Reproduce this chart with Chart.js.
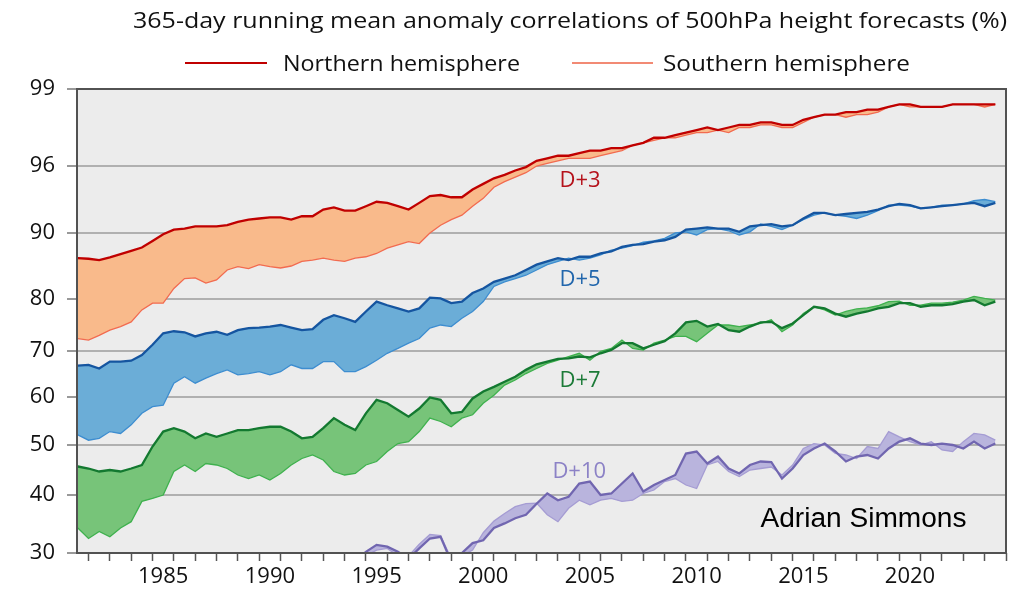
<!DOCTYPE html>
<html>
<head>
<meta charset="utf-8">
<script src="https://cdn.jsdelivr.net/npm/chart.js@4.4.1/dist/chart.umd.min.js"></script>
<style>
  html, body { margin: 0; padding: 0; background: #fff; }
  #wrap { width: 1033px; height: 590px; }
</style>
</head>
<body>
<div id="wrap"><canvas id="acChart" width="1033" height="590"></canvas></div>
<script>
// sample times, every half year (365-day running means)
const years = [
  1981.5, 1982, 1982.5, 1983, 1983.5, 1984, 1984.5,
  1985, 1985.5, 1986, 1986.5, 1987, 1987.5, 1988, 1988.5, 1989, 1989.5,
  1990, 1990.5, 1991, 1991.5, 1992, 1992.5, 1993, 1993.5, 1994, 1994.5,
  1995, 1995.5, 1996, 1996.5, 1997, 1997.5, 1998, 1998.5, 1999, 1999.5,
  2000, 2000.5, 2001, 2001.5, 2002, 2002.5, 2003, 2003.5, 2004, 2004.5,
  2005, 2005.5, 2006, 2006.5, 2007, 2007.5, 2008, 2008.5, 2009, 2009.5,
  2010, 2010.5, 2011, 2011.5, 2012, 2012.5, 2013, 2013.5, 2014, 2014.5,
  2015, 2015.5, 2016, 2016.5, 2017, 2017.5, 2018, 2018.5, 2019, 2019.5,
  2020, 2020.5, 2021, 2021.5, 2022, 2022.5, 2023, 2023.5, 2024, 2024.5
];

// D+3
const d3NH = [
  86.2, 86.1, 85.9, 86.3, 86.8, 87.3, 87.8,
  88.8, 89.8, 90.3, 90.4, 90.6, 90.6, 90.6, 90.7, 91.0, 91.2,
  91.3, 91.4, 91.4, 91.2, 91.5, 91.5, 92.1, 92.3, 92.0, 92.0,
  92.4, 92.8, 92.7, 92.4, 92.1, 92.7, 93.3, 93.4, 93.2, 93.2,
  93.9, 94.4, 94.9, 95.2, 95.6, 95.9, 96.2, 96.3, 96.4, 96.4,
  96.5, 96.6, 96.6, 96.7, 96.7, 96.8, 96.9, 97.1, 97.1, 97.2,
  97.3, 97.4, 97.5, 97.4, 97.5, 97.6, 97.6, 97.7, 97.7, 97.6,
  97.6, 97.8, 97.9, 98.0, 98.0, 98.1, 98.1, 98.2, 98.2, 98.3,
  98.4, 98.4, 98.3, 98.3, 98.3, 98.4, 98.4, 98.4, 98.4, 98.4
];
const d3SH = [
  72.4, 72.1, 73.0, 74.0, 74.7, 75.6, 77.9,
  79.2, 79.2, 81.6, 83.1, 83.2, 82.4, 82.9, 84.4, 84.9, 84.6,
  85.2, 84.9, 84.7, 85.0, 85.7, 85.9, 86.2, 85.9, 85.7, 86.2,
  86.4, 86.9, 87.7, 88.2, 88.7, 88.4, 90.0, 90.7, 91.2, 91.6,
  92.4, 93.1, 94.1, 94.6, 95.0, 95.4, 96.0, 96.1, 96.2, 96.3,
  96.3, 96.3, 96.4, 96.5, 96.6, 96.8, 96.9, 97.0, 97.1, 97.1,
  97.2, 97.3, 97.3, 97.4, 97.3, 97.5, 97.5, 97.6, 97.6, 97.5,
  97.5, 97.7, 97.9, 98.0, 98.0, 97.9, 98.0, 98.0, 98.1, 98.3,
  98.4, 98.3, 98.3, 98.3, 98.3, 98.4, 98.4, 98.4, 98.3, 98.4
];

// D+5
const d5NH = [
  66.8, 67.0, 66.2, 67.7, 67.7, 67.9, 69.1,
  71.2, 73.4, 73.8, 73.6, 72.8, 73.4, 73.7, 73.1, 74.0, 74.4,
  74.5, 74.7, 75.0, 74.5, 74.0, 74.2, 76.0, 76.9, 76.3, 75.6,
  77.6, 79.5, 78.8, 78.2, 77.6, 78.2, 80.2, 80.1, 79.2, 79.5,
  80.9, 81.6, 82.6, 83.1, 83.6, 84.4, 85.2, 85.7, 86.2, 85.9,
  86.4, 86.4, 86.9, 87.2, 87.9, 88.2, 88.3, 88.7, 88.9, 89.4,
  90.3, 90.4, 90.5, 90.4, 90.4, 90.1, 90.6, 90.7, 90.8, 90.6,
  90.7, 91.3, 91.8, 91.8, 91.6, 91.7, 91.8, 91.9, 92.1, 92.4,
  92.6, 92.5, 92.2, 92.3, 92.4, 92.5, 92.6, 92.7, 92.4, 92.7
];
const d5SH = [
  52.1, 51.0, 51.4, 52.8, 52.4, 54.2, 56.6,
  58.0, 58.3, 63.0, 64.4, 63.0, 64.1, 65.1, 65.9, 64.8, 65.1,
  65.5, 64.8, 65.5, 67.0, 66.2, 66.2, 67.7, 67.7, 65.5, 65.5,
  66.6, 68.0, 69.5, 70.5, 71.5, 72.4, 74.4, 75.0, 74.7, 76.3,
  77.6, 79.5, 81.9, 82.6, 83.1, 83.6, 84.4, 85.2, 85.7, 86.2,
  85.9, 86.2, 86.7, 87.4, 87.7, 88.1, 88.6, 88.8, 89.2, 90.0,
  90.1, 89.7, 90.3, 90.4, 90.2, 89.7, 90.1, 90.8, 90.6, 90.3,
  90.7, 91.2, 91.6, 91.8, 91.6, 91.5, 91.3, 91.6, 92.0, 92.5,
  92.5, 92.4, 92.2, 92.3, 92.5, 92.5, 92.6, 92.9, 93.0, 92.8
];

// D+7
const d7NH = [
  45.7, 45.3, 44.7, 45.0, 44.7, 45.3, 46.0,
  49.7, 52.8, 53.5, 52.8, 51.4, 52.4, 51.7, 52.4, 53.1, 53.1,
  53.5, 53.8, 53.8, 52.8, 51.4, 51.7, 53.5, 55.6, 54.2, 53.1,
  56.6, 59.4, 58.7, 57.3, 55.9, 57.6, 59.9, 59.4, 56.6, 56.9,
  59.7, 61.2, 62.2, 63.3, 64.4, 65.9, 67.1, 67.7, 68.3, 68.4,
  68.8, 68.6, 69.5, 70.2, 71.5, 71.5, 70.5, 71.2, 71.9, 73.4,
  75.5, 75.8, 74.7, 75.2, 74.0, 73.7, 74.7, 75.5, 75.6, 74.4,
  75.3, 76.9, 78.5, 78.2, 77.2, 76.6, 77.2, 77.6, 78.2, 78.5,
  79.2, 79.2, 78.5, 78.8, 78.8, 79.0, 79.5, 79.8, 78.8, 79.5
];
const d7SH = [
  34.3, 32.5, 33.7, 32.8, 34.3, 35.4, 38.9,
  39.4, 40.0, 44.7, 46.0, 44.7, 46.3, 46.0, 45.3, 44.0, 43.3,
  44.0, 43.0, 44.3, 46.0, 47.3, 48.0, 47.0, 44.7, 44.0, 44.3,
  46.0, 46.7, 48.7, 50.3, 50.7, 52.8, 55.6, 54.9, 53.8, 55.6,
  56.3, 58.7, 60.4, 62.6, 63.7, 65.1, 66.2, 67.3, 68.0, 68.8,
  69.5, 68.0, 69.9, 70.5, 72.1, 70.5, 70.2, 71.5, 72.1, 72.8,
  72.8, 71.8, 73.4, 75.0, 75.0, 74.7, 75.0, 75.3, 76.0, 73.7,
  75.0, 77.2, 78.5, 77.9, 76.9, 77.6, 78.1, 78.3, 78.7, 79.5,
  79.6, 78.8, 78.8, 79.2, 79.2, 79.4, 79.8, 80.4, 80.1, 79.8
];

// D+10 (below 30% before the mid 1990s, off the bottom of the chart)
const d10NH = [
  null, null, null, null, null, null, null,
  null, null, null, null, null, null, null, null, null, null,
  null, null, null, null, null, null, null, null, 27.0, 28.5,
  30.2, 31.4, 31.1, 30.2, 29.0, 30.8, 32.5, 32.8, 28.5, 30.0,
  31.7, 32.2, 34.3, 35.1, 36.0, 36.6, 38.5, 40.3, 39.1, 39.7,
  42.3, 42.7, 40.0, 40.3, 42.3, 44.3, 40.7, 42.0, 43.0, 44.0,
  48.3, 48.7, 46.3, 47.7, 45.3, 44.3, 46.0, 46.7, 46.6, 43.3,
  45.3, 48.0, 49.3, 50.3, 48.7, 46.7, 47.7, 48.0, 47.3, 49.3,
  50.7, 51.4, 50.3, 50.0, 50.3, 50.0, 49.3, 50.7, 49.3, 50.3
];
const d10SH = [
  null, null, null, null, null, null, null,
  null, null, null, null, null, null, null, null, null, null,
  null, null, null, null, null, null, null, null, 27.5, 28.0,
  29.5, 30.5, 30.8, 29.5, 29.5, 31.5, 33.2, 33.0, 29.0, 29.5,
  30.5, 33.5, 35.5, 36.8, 38.0, 38.5, 38.6, 36.6, 35.4, 37.7,
  39.1, 38.3, 39.1, 39.4, 38.9, 39.1, 40.3, 41.0, 42.7, 43.3,
  42.0, 41.3, 46.0, 46.7, 44.7, 43.7, 45.0, 45.3, 45.6, 44.0,
  46.0, 49.3, 50.3, 50.0, 48.3, 48.0, 47.3, 49.7, 49.3, 52.8,
  51.7, 50.7, 50.0, 50.7, 49.0, 48.7, 50.7, 52.4, 52.1, 51.0
];

// y axis is stretched towards 100%: tick values and their height above the axis bottom
const yTickVals = [30, 40, 50, 60, 70, 80, 90, 96, 99];
const yTickHeights = [0, 58, 108, 156, 202, 254, 320, 387, 464];
const xLabelYears = [1985, 1990, 1995, 2000, 2005, 2010, 2015, 2020];

function warp(v) {
  if (v === null) return null;
  if (v <= yTickVals[0]) {
    const k = (yTickHeights[1] - yTickHeights[0]) / (yTickVals[1] - yTickVals[0]);
    return (v - yTickVals[0]) * k;
  }
  for (let i = 0; i < yTickVals.length - 1; i++) {
    if (v <= yTickVals[i + 1]) {
      const f = (v - yTickVals[i]) / (yTickVals[i + 1] - yTickVals[i]);
      return yTickHeights[i] + f * (yTickHeights[i + 1] - yTickHeights[i]);
    }
  }
  return yTickHeights[yTickHeights.length - 1];
}

function pts(arr) {
  return years.map((yr, i) => ({ x: yr, y: warp(arr[i]) }));
}

const leads = [
  { name: 'D+3',  nh: d3NH,  sh: d3SH,  nhColor: '#c00000', shColor: '#f26b50', fill: '#f9ba8b', text: '#b5121b' },
  { name: 'D+5',  nh: d5NH,  sh: d5SH,  nhColor: '#1555a0', shColor: '#3d8dd0', fill: '#6badd7', text: '#2166ac' },
  { name: 'D+7',  nh: d7NH,  sh: d7SH,  nhColor: '#137930', shColor: '#3fb14e', fill: '#77c479', text: '#1b7a37' },
  { name: 'D+10', nh: d10NH, sh: d10SH, nhColor: '#7166b0', shColor: '#a59cd3', fill: '#b9b4dd', text: '#8c82c6' }
];

// where the lead-time labels sit (year, % value)
const labelNotes = [
  { text: 'D+3',  year: 2004.07, val: 94.1 },
  { text: 'D+5',  year: 2004.07, val: 82.0 },
  { text: 'D+7',  year: 2004.07, val: 62.2 },
  { text: 'D+10', year: 2003.74, val: 43.4 }
];

const datasets = [];
leads.forEach(l => {
  datasets.push({
    label: l.name + ' NH',
    data: pts(l.nh),
    borderColor: l.nhColor,
    backgroundColor: l.fill,
    borderWidth: 2.3,
    fill: '+1',
    pointRadius: 0,
    tension: 0
  });
  datasets.push({
    label: l.name + ' SH',
    data: pts(l.sh),
    borderColor: l.shColor,
    borderWidth: 1.3,
    fill: false,
    pointRadius: 0,
    tension: 0
  });
});

function fitText(ctx, text, x, y, width, font, color, align) {
  ctx.save();
  ctx.font = font;
  ctx.fillStyle = color;
  ctx.textBaseline = 'alphabetic';
  ctx.textAlign = 'left';
  const w = ctx.measureText(text).width;
  const left = align === 'right' ? x - width : x;
  ctx.translate(left, y);
  ctx.scale(width / w, 1);
  ctx.fillText(text, 0, 0);
  ctx.restore();
}

const decor = {
  id: 'decor',
  beforeDraw(chart) {
    const { ctx, chartArea: a } = chart;
    ctx.save();
    ctx.fillStyle = '#ececec';
    ctx.fillRect(a.left, a.top, a.right - a.left, a.bottom - a.top);
    ctx.restore();
  },
  afterDraw(chart) {
    const { ctx, chartArea: a, scales } = chart;
    ctx.save();
    ctx.strokeStyle = '#525252';
    ctx.lineWidth = 2;
    ctx.strokeRect(a.left, a.top, a.right - a.left, a.bottom - a.top);

    // title
    fitText(ctx, '365-day running mean anomaly correlations of 500hPa height forecasts (%)',
      133, 28, 874, "22px 'Open Sans'", '#111', 'left');

    // legend
    ctx.lineWidth = 2;
    ctx.strokeStyle = '#c00000';
    ctx.beginPath(); ctx.moveTo(185, 63); ctx.lineTo(267, 63); ctx.stroke();
    fitText(ctx, 'Northern hemisphere', 283, 71, 237, "22px 'Open Sans'", '#111', 'left');
    ctx.strokeStyle = '#f28a74';
    ctx.beginPath(); ctx.moveTo(572, 63); ctx.lineTo(653, 63); ctx.stroke();
    fitText(ctx, 'Southern hemisphere', 663, 71, 247, "22px 'Open Sans'", '#111', 'left');

    // lead-time labels
    labelNotes.forEach((n, i) => {
      const x = scales.x.getPixelForValue(n.year);
      const y = scales.y.getPixelForValue(warp(n.val));
      ctx.font = "22px 'Open Sans'";
      ctx.fillStyle = leads[i].text;
      ctx.textAlign = 'left';
      ctx.textBaseline = 'alphabetic';
      ctx.fillText(n.text, x, y);
    });

    // credit
    const cx = scales.x.getPixelForValue(2023.15);
    const cy = scales.y.getPixelForValue(warp(34.5));
    fitText(ctx, 'Adrian Simmons', cx, cy, 206, "27px 'Liberation Sans'", '#000', 'right');
    ctx.restore();
  }
};

new Chart(document.getElementById('acChart'), {
  type: 'line',
  data: { datasets: datasets },
  plugins: [decor],
  options: {
    responsive: false,
    animation: false,
    devicePixelRatio: 1,
    layout: { padding: { top: 89, right: 27, left: 0, bottom: 0 } },
    plugins: {
      legend: { display: false },
      title: { display: false },
      tooltip: { enabled: false },
      filler: { drawTime: 'beforeDatasetsDraw' }
    },
    scales: {
      x: {
        type: 'linear',
        min: 1981.46,
        max: 2025,
        afterFit: s => { s.height = 37; },
        afterBuildTicks: s => {
          const t = [];
          for (let y = 1982; y <= 2025; y++) t.push({ value: y });
          xLabelYears.forEach(y => t.push({ value: y + 0.5 }));
          t.sort((p, q) => p.value - q.value);
          s.ticks = t;
        },
        border: { display: false },
        grid: {
          drawOnChartArea: false,
          tickLength: 8,
          tickWidth: 1.5,
          color: c => (c.tick && Number.isInteger(c.tick.value)) ? '#555' : 'rgba(0,0,0,0)'
        },
        ticks: {
          autoSkip: false,
          maxRotation: 0,
          minRotation: 0,
          padding: 3,
          color: '#111',
          font: { family: 'Open Sans', size: 22 },
          callback: v => Number.isInteger(v) ? '' : String(Math.floor(v))
        }
      },
      y: {
        type: 'linear',
        min: 0,
        max: yTickHeights[yTickHeights.length - 1],
        afterFit: s => { s.width = 77; },
        afterBuildTicks: s => {
          s.ticks = yTickVals.map(v => ({ value: warp(v) }));
        },
        border: { display: false },
        grid: {
          color: '#b0b0b0',
          lineWidth: 2,
          tickColor: '#777',
          tickLength: 10,
          tickWidth: 1.5
        },
        ticks: {
          padding: 12,
          color: '#111',
          font: { family: 'Open Sans', size: 22 },
          callback: (v, i) => String(yTickVals[i])
        }
      }
    }
  }
});
</script>
</body>
</html>
